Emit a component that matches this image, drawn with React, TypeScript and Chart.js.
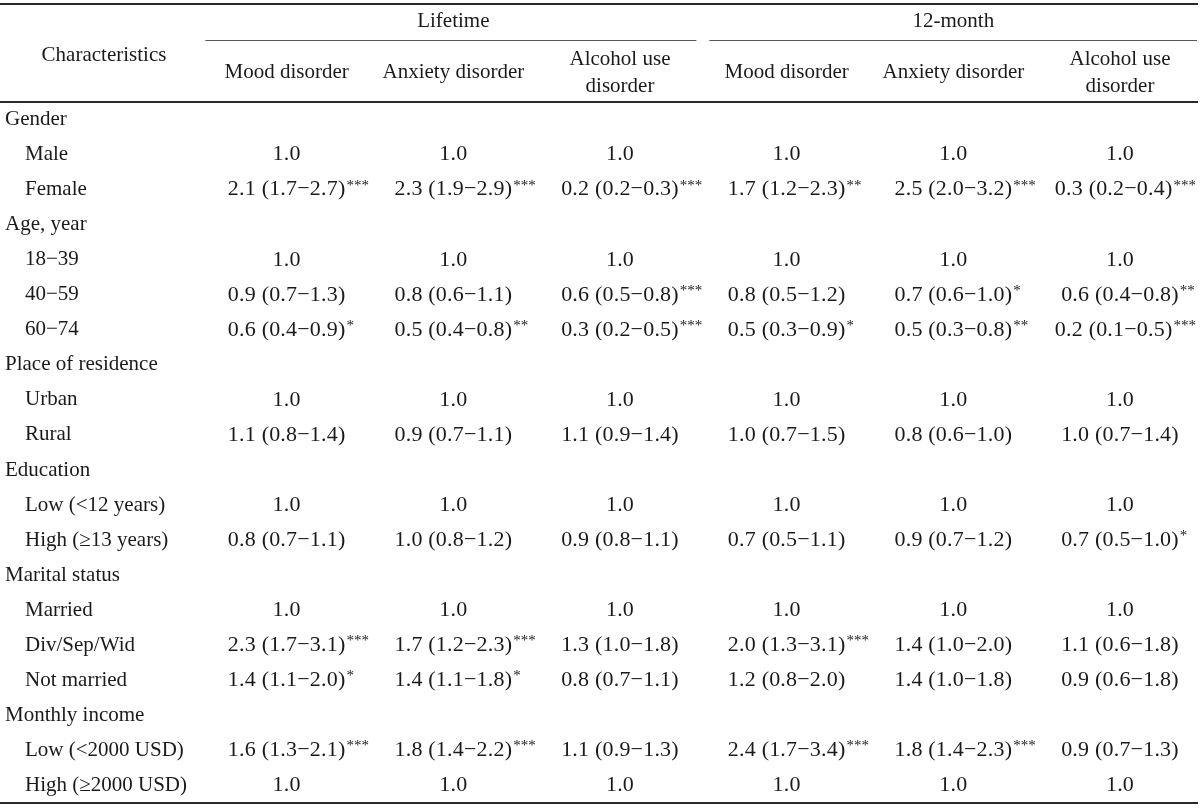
import React, { useEffect, useRef } from "react";
import { Chart, registerables } from "chart.js";

Chart.register(...registerables);

const groupTitles = ["Lifetime", "12-month"];
const measureTitles = [["Mood disorder"], ["Anxiety disorder"], ["Alcohol use", "disorder"]];
const stubTitle = "Characteristics";

const rowLabels = [
  "Gender", "Male", "Female",
  "Age, year", "18−39", "40−59", "60−74",
  "Place of residence", "Urban", "Rural",
  "Education", "Low (<12 years)", "High (≥13 years)",
  "Marital status", "Married", "Div/Sep/Wid", "Not married",
  "Monthly income", "Low (<2000 USD)", "High (≥2000 USD)",
];
const groupRows = [0, 3, 7, 10, 13, 17];

const lifetimeMood = [
  null, "1.0", "2.1 (1.7−2.7)***",
  null, "1.0", "0.9 (0.7−1.3)", "0.6 (0.4−0.9)*",
  null, "1.0", "1.1 (0.8−1.4)",
  null, "1.0", "0.8 (0.7−1.1)",
  null, "1.0", "2.3 (1.7−3.1)***", "1.4 (1.1−2.0)*",
  null, "1.6 (1.3−2.1)***", "1.0",
];
const lifetimeAnxiety = [
  null, "1.0", "2.3 (1.9−2.9)***",
  null, "1.0", "0.8 (0.6−1.1)", "0.5 (0.4−0.8)**",
  null, "1.0", "0.9 (0.7−1.1)",
  null, "1.0", "1.0 (0.8−1.2)",
  null, "1.0", "1.7 (1.2−2.3)***", "1.4 (1.1−1.8)*",
  null, "1.8 (1.4−2.2)***", "1.0",
];
const lifetimeAlcohol = [
  null, "1.0", "0.2 (0.2−0.3)***",
  null, "1.0", "0.6 (0.5−0.8)***", "0.3 (0.2−0.5)***",
  null, "1.0", "1.1 (0.9−1.4)",
  null, "1.0", "0.9 (0.8−1.1)",
  null, "1.0", "1.3 (1.0−1.8)", "0.8 (0.7−1.1)",
  null, "1.1 (0.9−1.3)", "1.0",
];
const monthMood = [
  null, "1.0", "1.7 (1.2−2.3)**",
  null, "1.0", "0.8 (0.5−1.2)", "0.5 (0.3−0.9)*",
  null, "1.0", "1.0 (0.7−1.5)",
  null, "1.0", "0.7 (0.5−1.1)",
  null, "1.0", "2.0 (1.3−3.1)***", "1.2 (0.8−2.0)",
  null, "2.4 (1.7−3.4)***", "1.0",
];
const monthAnxiety = [
  null, "1.0", "2.5 (2.0−3.2)***",
  null, "1.0", "0.7 (0.6−1.0)*", "0.5 (0.3−0.8)**",
  null, "1.0", "0.8 (0.6−1.0)",
  null, "1.0", "0.9 (0.7−1.2)",
  null, "1.0", "1.4 (1.0−2.0)", "1.4 (1.0−1.8)",
  null, "1.8 (1.4−2.3)***", "1.0",
];
const monthAlcohol = [
  null, "1.0", "0.3 (0.2−0.4)***",
  null, "1.0", "0.6 (0.4−0.8)**", "0.2 (0.1−0.5)***",
  null, "1.0", "1.0 (0.7−1.4)",
  null, "1.0", "0.7 (0.5−1.0)*",
  null, "1.0", "1.1 (0.6−1.8)", "0.9 (0.6−1.8)",
  null, "0.9 (0.7−1.3)", "1.0",
];

const FONT = '"Liberation Serif", "Times New Roman", serif';
const TEXT = "#1a1a1a";
const RULE = "#2a2a2a";

export default function App() {
  const ref = useRef<HTMLCanvasElement>(null);

  useEffect(() => {
    document.body.style.margin = "0";
    const columns = [lifetimeMood, lifetimeAnxiety, lifetimeAlcohol, monthMood, monthAnxiety, monthAlcohol];
    const datasets: any[] = columns.map((col, ci) => ({
      label: `${groupTitles[Math.floor(ci / 3)]} ${measureTitles[ci % 3].join(" ")}`,
      data: col
        .map((v, ri) => (v == null ? null : { x: ci + 1, y: ri, text: v }))
        .filter((d) => d !== null),
      pointRadius: 0,
      pointHoverRadius: 0,
      showLine: false,
    }));
    // stub column (row labels)
    datasets.push({
      label: stubTitle,
      data: rowLabels.map((l, ri) => ({ x: 0, y: ri, text: l })),
      pointRadius: 0,
      pointHoverRadius: 0,
      showLine: false,
    });

    const tablePlugin = {
      id: "tableText",
      afterDatasetsDraw(chart: any) {
        const { ctx, chartArea, scales } = chart;
        const xs = scales.x;
        const ca = chartArea;
        ctx.save();
        ctx.fillStyle = TEXT;
        ctx.textBaseline = "middle";

        chart.data.datasets.forEach((ds: any, di: number) => {
          const meta = chart.getDatasetMeta(di);
          meta.data.forEach((pt: any, i: number) => {
            const raw = ds.data[i];
            if (di === chart.data.datasets.length - 1) {
              const isGroup = groupRows.includes(raw.y);
              ctx.font = `21px ${FONT}`;
              ctx.letterSpacing = "0px";
              ctx.textAlign = "left";
              ctx.fillText(raw.text, ca.left + (isGroup ? 5 : 25), pt.y);
              return;
            }
            const m = /^(.*?)(\*+)?$/.exec(raw.text) as RegExpExecArray;
            const main = m[1];
            const stars = m[2] || "";
            ctx.font = `15px ${FONT}`;
            ctx.letterSpacing = "0px";
            const sw = stars ? ctx.measureText(stars).width + 1 : 0;
            ctx.font = `22px ${FONT}`;
            ctx.letterSpacing = "0.2px";
            ctx.textAlign = "left";
            const w = ctx.measureText(main).width;
            let x0 = pt.x - w / 2;
            if (x0 + w + sw > ca.right - 4) x0 = ca.right - 4 - w - sw;
            ctx.fillText(main, x0, pt.y);
            if (stars) {
              ctx.font = `15px ${FONT}`;
              ctx.letterSpacing = "0px";
              ctx.fillText(stars, x0 + w + 1, pt.y - 4);
            }
          });
        });

        // header texts
        ctx.font = `21px ${FONT}`;
        ctx.letterSpacing = "0px";
        ctx.textAlign = "center";
        ctx.fillText(stubTitle, ca.left + 104, 55);
        groupTitles.forEach((g, gi) => {
          ctx.fillText(g, xs.getPixelForValue(2 + gi * 3), 21);
          measureTitles.forEach((mt, mi) => {
            const x = xs.getPixelForValue(1 + gi * 3 + mi);
            if (mt.length === 1) ctx.fillText(mt[0], x, 72);
            else {
              ctx.fillText(mt[0], x, 59);
              ctx.fillText(mt[1], x, 86);
            }
          });
        });

        // rules
        ctx.strokeStyle = RULE;
        ctx.lineWidth = 2;
        ctx.beginPath();
        ctx.moveTo(ca.left, 4);
        ctx.lineTo(ca.right - 2, 4);
        ctx.moveTo(ca.left, ca.top);
        ctx.lineTo(ca.right - 2, ca.top);
        ctx.moveTo(ca.left, ca.bottom);
        ctx.lineTo(ca.right - 2, ca.bottom);
        ctx.stroke();
        ctx.lineWidth = 1;
        ctx.strokeStyle = "#555555";
        ctx.beginPath();
        const mid = xs.getPixelForValue(3.5);
        ctx.moveTo(xs.getPixelForValue(0.5) + 2, 40.5);
        ctx.lineTo(mid - 7, 40.5);
        ctx.moveTo(mid + 6, 40.5);
        ctx.lineTo(ca.right - 3, 40.5);
        ctx.stroke();
        ctx.restore();
      },
    };

    const chart = new Chart(ref.current as HTMLCanvasElement, {
      type: "scatter",
      data: { datasets },
      options: {
        responsive: false,
        animation: false,
        events: [],
        layout: { padding: { top: 102, bottom: 7, left: 0, right: 0 } },
        scales: {
          x: { type: "linear", display: false, min: -0.72, max: 6.48 },
          y: { type: "linear", display: false, reverse: true, min: -0.5, max: 19.5 },
        },
        plugins: { legend: { display: false }, tooltip: { enabled: false } },
      },
      plugins: [tablePlugin],
    });
    return () => chart.destroy();
  }, []);

  return (
    <div style={{ width: 1200, height: 810, background: "#fff" }}>
      <canvas ref={ref} width={1200} height={810} />
    </div>
  );
}
